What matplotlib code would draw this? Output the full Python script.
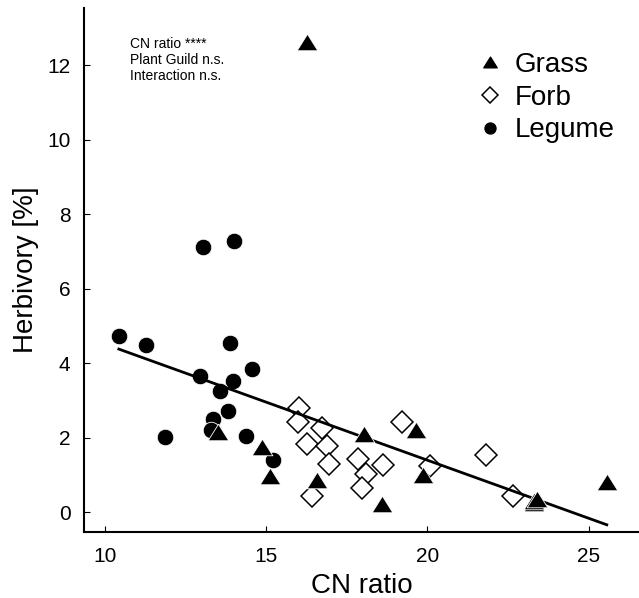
import matplotlib
matplotlib.use("Agg")
import matplotlib.pyplot as plt
from matplotlib.lines import Line2D
from matplotlib.path import Path

plt.rcParams['font.family'] = ['Liberation Sans', 'DejaVu Sans']

# --- data ---
grass_cn = [16.25, 13.51, 14.86, 15.12, 16.56, 18.03, 19.64, 19.87, 18.58, 23.29, 23.29, 23.39, 25.56]
grass_herb = [12.62, 2.14, 1.76, 0.98, 0.87, 2.11, 2.21, 1.00, 0.21, 0.245, 0.30, 0.35, 0.80]

forb_cn = [16.03, 16.00, 16.72, 16.25, 16.89, 16.96, 16.41, 17.86, 18.10, 18.62, 17.97, 19.22, 20.08, 21.80, 22.65]
forb_herb = [2.81, 2.41, 2.26, 1.83, 1.78, 1.29, 0.42, 1.43, 1.03, 1.27, 0.64, 2.43, 1.23, 1.54, 0.42]

legume_cn = [13.05, 14.00, 10.43, 11.27, 13.88, 11.86, 12.95, 14.57, 13.98, 13.57, 13.82, 13.34, 13.28, 14.36, 15.20]
legume_herb = [7.11, 7.29, 4.74, 4.48, 4.54, 2.01, 3.67, 3.85, 3.53, 3.26, 2.73, 2.50, 2.21, 2.05, 1.40]

fit_cn = [10.43, 25.56]
fit_herb = [4.38, -0.34]

stats_text = "CN ratio ****\nPlant Guild n.s.\nInteraction n.s."

# flat triangle like in the original
tri = Path([(-1, -0.8), (1, -0.8), (0, 0.8), (-1, -0.8)], closed=True)

fig = plt.figure(figsize=(6.39, 5.98), dpi=100)
ax = fig.add_axes([0.132, 0.110, 0.868, 0.877])

ax.plot(legume_cn, legume_herb, linestyle='none', marker='o', markersize=11.9,
        markerfacecolor='black', markeredgecolor='white', markeredgewidth=0.6, zorder=2)
ax.plot(forb_cn, forb_herb, linestyle='none', marker='D', markersize=11.7,
        markerfacecolor='white', markeredgecolor='black', markeredgewidth=1.1, zorder=3)
ax.plot(fit_cn, fit_herb, color='black', linewidth=2.0, zorder=4)
ax.plot(grass_cn, grass_herb, linestyle='none', marker=tri, markersize=14.9,
        markerfacecolor='black', markeredgecolor='white', markeredgewidth=0.6, zorder=5)

ax.set_xlim(9.36, 26.56)
ax.set_ylim(-0.54, 13.55)
ax.set_xticks([10, 15, 20, 25])
ax.set_yticks([0, 2, 4, 6, 8, 10, 12])
ax.tick_params(direction='in', length=4, width=0.8, labelsize=15, pad=10)
ax.tick_params(axis='x', pad=11)

ax.spines['top'].set_visible(False)
ax.spines['right'].set_visible(False)
ax.spines['left'].set_linewidth(1.5)
ax.spines['bottom'].set_linewidth(1.5)

ax.set_xlabel("CN ratio", fontsize=20, labelpad=5)
ax.set_ylabel("Herbivory [%]", fontsize=20, labelpad=6)

ax.text(10.78, 12.15, stats_text, fontsize=10, va='center', ha='left', linespacing=1.15)

handles = [
    Line2D([], [], linestyle='none', marker=tri, markersize=9.6, markerfacecolor='black', markeredgecolor='black'),
    Line2D([], [], linestyle='none', marker='D', markersize=8.0, markerfacecolor='white',
           markeredgecolor='black', markeredgewidth=1.1),
    Line2D([], [], linestyle='none', marker='o', markersize=7.9, markerfacecolor='black', markeredgecolor='black'),
]
ax.legend(handles, ["Grass", "Forb", "Legume"], loc='upper left', bbox_to_anchor=(0.707, 0.916),
          frameon=False, fontsize=20, handlelength=1.0, handletextpad=0.36,
          labelspacing=0.245, borderpad=0, borderaxespad=0)

fig.savefig("out.png", dpi=100)
